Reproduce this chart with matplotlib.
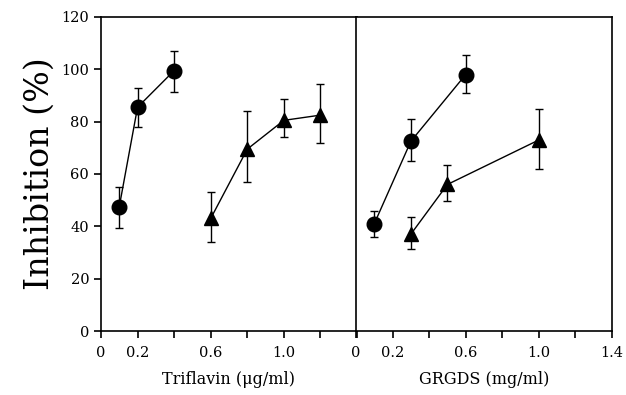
import numpy as np
import matplotlib.pyplot as plt

plt.rcParams['font.family'] = ['DejaVu Serif']

# Triflavin panel (ug/ml)
tri_circ_x = [0.1, 0.2, 0.4]
tri_circ_y = [47.5, 85.5, 99.5]
tri_circ_lo = [39.5, 78, 91.5]
tri_circ_hi = [55, 93, 107]

tri_tri_x = [0.6, 0.8, 1.0, 1.2]
tri_tri_y = [43, 69.5, 80.5, 82.5]
tri_tri_lo = [34, 57, 74, 72]
tri_tri_hi = [53, 84, 88.5, 94.5]

# GRGDS panel (mg/ml)
grg_circ_x = [0.1, 0.3, 0.6]
grg_circ_y = [41, 72.5, 98]
grg_circ_lo = [36, 65, 91]
grg_circ_hi = [46, 81, 105.5]

grg_tri_x = [0.3, 0.5, 1.0]
grg_tri_y = [37, 56, 73]
grg_tri_lo = [31.5, 49.5, 62]
grg_tri_hi = [43.5, 63.5, 85]

xticks = [0, 0.2, 0.4, 0.6, 0.8, 1.0, 1.2, 1.4]
left_labels = ['0', '0.2', '', '0.6', '', '1.0', '', '']
right_labels = ['0', '0.2', '', '0.6', '', '1.0', '', '1.4']
yticks = [0, 20, 40, 60, 80, 100, 120]


def draw(ax, x, y, lo, hi, marker, ms):
    y = np.array(y)
    err = [y - np.array(lo), np.array(hi) - y]
    ax.errorbar(x, y, yerr=err, fmt='none', ecolor='black', elinewidth=1.0,
                capsize=3, capthick=1.0)
    ax.plot(x, y, color='black', lw=1.0, marker=marker, ms=ms,
            mfc='black', mec='black')


fig = plt.figure(figsize=(6.26, 3.95), dpi=100)
ax1 = fig.add_axes([0.1613, 0.162, 0.409, 0.795])
ax2 = fig.add_axes([0.5687, 0.162, 0.4089, 0.795])

draw(ax1, tri_circ_x, tri_circ_y, tri_circ_lo, tri_circ_hi, 'o', 10.5)
draw(ax1, tri_tri_x, tri_tri_y, tri_tri_lo, tri_tri_hi, '^', 10.5)
draw(ax2, grg_circ_x, grg_circ_y, grg_circ_lo, grg_circ_hi, 'o', 10.5)
draw(ax2, grg_tri_x, grg_tri_y, grg_tri_lo, grg_tri_hi, '^', 10.5)

for ax, labels in ((ax1, left_labels), (ax2, right_labels)):
    ax.set_xlim(0, 1.4)
    ax.set_ylim(0, 120)
    ax.set_xticks(xticks)
    ax.set_xticklabels(labels, fontsize=10.5)
    ax.tick_params(axis='x', direction='out', length=5, width=1.2, pad=6)
    for s in ax.spines.values():
        s.set_linewidth(1.2)

ax1.set_yticks(yticks)
ax1.set_yticklabels([str(v) for v in yticks], fontsize=10.5)
ax1.tick_params(axis='y', direction='out', length=5, width=1.2)
ax2.set_yticks([])

ax1.set_ylabel('Inhibition (%)', fontsize=24, labelpad=4)
ax1.set_xlabel('Triflavin (\u03bcg/ml)', fontsize=11.5, labelpad=8)
ax2.set_xlabel('GRGDS (mg/ml)', fontsize=11.5, labelpad=8)

fig.savefig('out.png', dpi=100)
